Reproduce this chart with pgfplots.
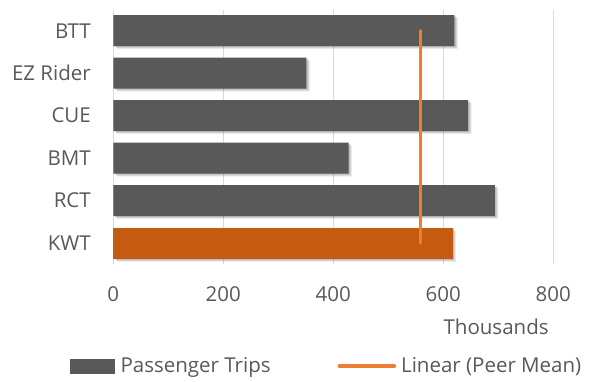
\documentclass[border=0pt]{standalone}
\usepackage{pgfplots}
\pgfplotsset{compat=1.18}
\usetikzlibrary{shadows}
\usepackage{fontspec}
\setmainfont{Open Sans}
\definecolor{bargray}{HTML}{595959}
\definecolor{kwt}{HTML}{C55A11}
\definecolor{meanline}{HTML}{ED7D31}
\definecolor{txt}{HTML}{595959}
\definecolor{gridc}{HTML}{D9D9D9}
\begin{document}
\begin{tikzpicture}[x=1pt,y=1pt]
\useasboundingbox (-113.3,-116.7) rectangle (475.7,264.3);
\begin{axis}[
  at={(0,0)}, anchor=south west,
  scale only axis, width=440pt, height=254.8pt,
  xmin=0, xmax=800, ymin=-0.5, ymax=5.5,
  clip=false,
  axis line style={draw=none},
  major tick length=0pt,
  xtick={0,200,400,600,800},
  ytick={0,1,2,3,4,5},
  yticklabels={KWT,RCT,BMT,CUE,EZ Rider,BTT},
  xmajorgrids, grid style={gridc, line width=1pt},
  tick label style={font=\fontsize{20.5}{24}\selectfont, text=txt},
  /pgf/number format/assume math mode=true,
  xticklabel style={yshift=-19pt},
  yticklabel style={xshift=-19pt},
  legend style={at={(-0.0984,-0.399)}, anchor=west, draw=none, fill=none,
    inner sep=0pt, legend columns=4, font=\fontsize{20.5}{24}\selectfont, text=txt,
    nodes={inner sep=0pt, anchor=west},
    /tikz/column 1/.style={column sep=6pt},
    /tikz/column 2/.style={column sep=67pt},
    /tikz/column 3/.style={column sep=5pt}},
  bshadow/.style={
    preaction={fill=black, opacity=0.07, transform canvas={xshift=3.5pt, yshift=-3pt}},
    preaction={fill=black, opacity=0.10, transform canvas={xshift=2.5pt, yshift=-2pt}},
    preaction={fill=black, opacity=0.12, transform canvas={xshift=1.5pt, yshift=-1pt}}},
]
\addlegendimage{legend image code/.code={\fill[bargray] (0pt,-7pt) rectangle (44pt,7pt);}}
\addlegendentry{Passenger Trips}
\addplot[xbar, bar width=31pt, bar shift=0pt, fill=bargray, draw=none, forget plot, bshadow]
  coordinates {(694,1) (428,2) (645,3) (351,4) (620,5)};
\addplot[xbar, bar width=31pt, bar shift=0pt, fill=kwt, draw=none, forget plot, bshadow]
  coordinates {(617,0)};
\addplot[meanline, line width=3.5pt, line cap=round,
  legend image code/.code={\draw[meanline, line width=3.5pt] (0pt,0pt) -- (55pt,0pt);}]
  coordinates {(559,0) (559,5)};
\addlegendentry{Linear (Peer Mean)}
\node[font=\fontsize{20.5}{24}\selectfont, text=txt] at (rel axis cs:0.87,-0.246) {Thousands};
\end{axis}
\end{tikzpicture}
\end{document}
